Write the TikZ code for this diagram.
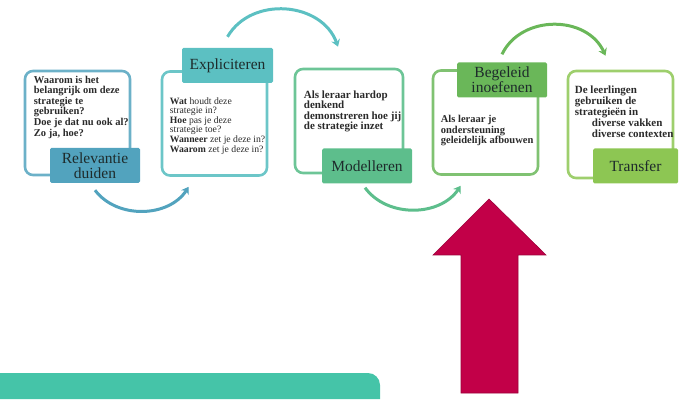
\documentclass[tikz,border=0pt]{standalone}
\usepackage{fontspec}
\setmainfont{Liberation Serif}
\usetikzlibrary{positioning,arrows.meta}

\definecolor{relblue}{HTML}{52A3BE}
\definecolor{explteal}{HTML}{5CC0C2}
\definecolor{modgreen}{HTML}{5DBE8C}
\definecolor{beggreen}{HTML}{6AB759}
\definecolor{transgreen}{HTML}{8DC653}
\definecolor{tagtext}{HTML}{1E2B2B}
\definecolor{bodytext}{HTML}{2A2A2A}
\definecolor{arrowred}{HTML}{C20048}
\definecolor{barteal}{HTML}{45C4A8}

\begin{document}
\begin{tikzpicture}[x=1pt,y=1pt]
        \tikzstyle{frame}=[draw, line width=2.6pt, rounded corners=8pt, minimum width=105pt, minimum height=104pt, inner sep=0pt]
        \tikzstyle{tag}=[minimum width=90pt, minimum height=35pt, inner sep=1pt, text=tagtext, align=center, rounded corners=1.5pt, font=\fontsize{15.5}{15}\selectfont]
        \tikzstyle{body}=[inner sep=0pt, text=bodytext, align=left, font=\bfseries\fontsize{10.5}{10.6}\selectfont]
        \tikzstyle{flow}=[line width=3pt, -{Stealth[length=7pt,width=9pt]}]

        \useasboundingbox (0,0) rectangle (680,399);

        % boxes
        \node (rel box)   [frame, draw=relblue!85]    at (77.5,276)  {};
        \node (expl box)  [frame, draw=explteal!90]   at (214.5,275.5) {};
        \node (mod box)   [frame, draw=modgreen!90, minimum width=108pt] at (349,278) {};
        \node (beg box)   [frame, draw=beggreen!85]   at (485.5,276.5) {};
        \node (trans box) [frame, draw=transgreen!85, minimum height=107pt] at (620.5,274.5) {};

        % titles
        \node (rel tag)   [tag, fill=relblue]    at (95,233.5)  {Relevantie\\duiden};
        \node (expl tag)  [tag, fill=explteal, minimum width=91pt] at (227.5,333.5) {Expliciteren};
        \node (mod tag)   [tag, fill=modgreen]   at (367,233)   {Modelleren};
        \node (beg tag)   [tag, fill=beggreen]   at (502,319)   {Begeleid\\inoefenen};
        \node (trans tag) [tag, fill=transgreen, minimum width=85pt] at (635.5,233) {Transfer};

        % texts
        \node (rel text) [body, below right=6pt and 10pt of rel box.north west]
            {Waarom is het\\belangrijk om deze\\strategie te\\gebruiken?\\Doe je dat nu ook al?\\Zo ja, hoe?};
        \node (expl text) [body, font=\fontsize{9.7}{9.6}\selectfont, below right=27pt and 9pt of expl box.north west]
            {\textbf{Wat} houdt deze\\strategie in?\\\textbf{Hoe} pas je deze\\strategie toe?\\\textbf{Wanneer} zet je deze in?\\\textbf{Waarom} zet je deze in?};
        \node (mod text) [body, font=\bfseries\fontsize{11}{10.4}\selectfont, below right=23pt and 10pt of mod box.north west]
            {Als leraar hardop\\denkend\\demonstreren hoe jij\\de strategie inzet};
        \node (beg text) [body, below right=46pt and 9pt of beg box.north west]
            {Als leraar je\\ondersteuning\\geleidelijk afbouwen};
        \node (trans text) [body, font=\bfseries\fontsize{11}{11}\selectfont, below right=16pt and 8pt of trans box.north west]
            {De leerlingen\\gebruiken de\\strategieën in\\\hspace*{17pt}diverse vakken\\\hspace*{17pt}diverse contexten};

        % steps
        \draw[flow, relblue] ([yshift=-7pt]rel tag.south) to[bend right=55] ([xshift=28pt,yshift=-10pt]expl box.south west);
        \draw[flow, explteal] ([yshift=11pt]expl tag.north) to[bend left=65, looseness=1.1] ([xshift=-11pt,yshift=21pt]mod box.north);
        \draw[flow, modgreen] ([xshift=-2pt,yshift=-4pt]mod tag.south) to[bend right=55] ([xshift=29pt,yshift=-10pt]beg box.south west);
        \draw[flow, beggreen] ([yshift=8pt]beg tag.north) to[bend left=65, looseness=1.1] ([xshift=-15pt,yshift=14pt]trans box.north);

        % big arrow and bar
        \fill[arrowred, draw=arrowred!80!black, line width=0.6pt]
            (461,6) -- (461,144) -- (433,144) -- (489,200) -- (546,144) -- (518,144) -- (518,6) -- cycle;
        \fill[barteal] (0,0) -- (0,26) -- (368,26) arc[start angle=90, end angle=0, radius=12] -- (380,0) -- cycle;
    \end{tikzpicture}
\end{document}
